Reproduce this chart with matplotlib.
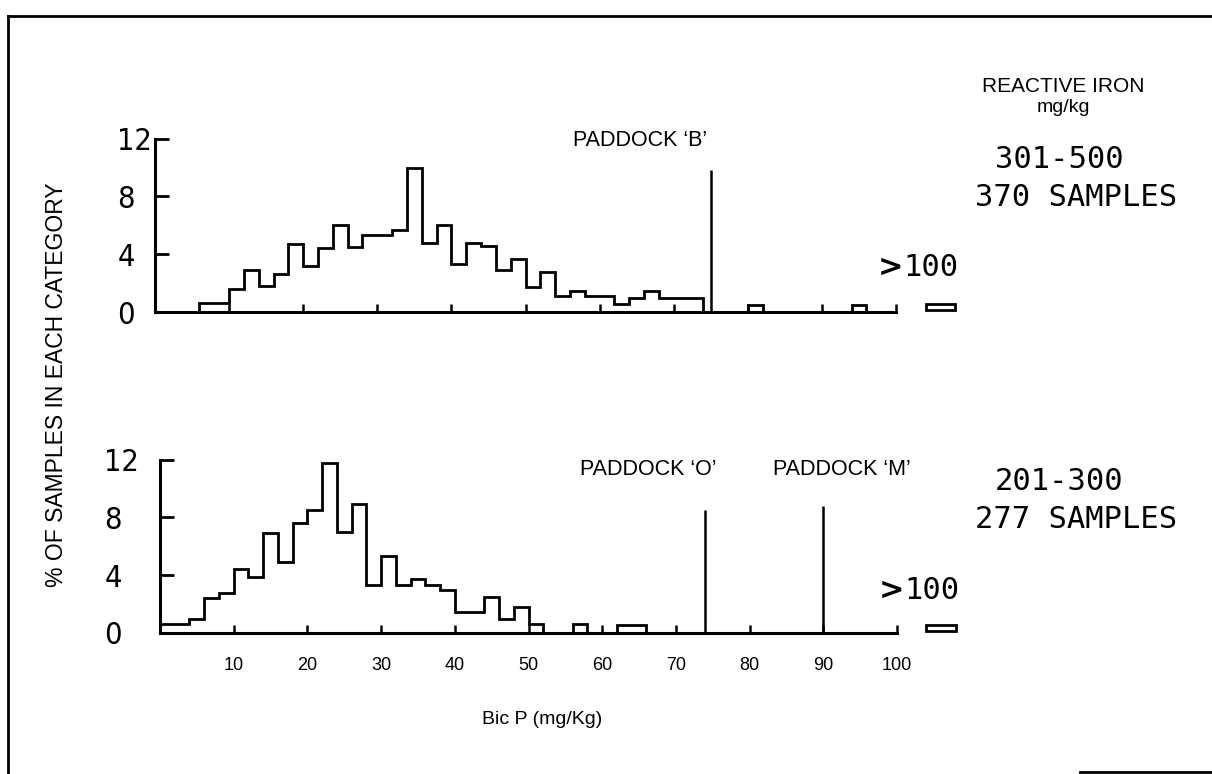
import matplotlib
matplotlib.use("Agg")
import matplotlib.pyplot as plt
import numpy as np
from matplotlib.lines import Line2D

# ---- data -------------------------------------------------------------
# 2 mg/kg classes of bicarbonate-extractable P, 0-100
bin_edges = np.arange(0, 102, 2)

# % of samples per class, reactive iron 301-500 mg/kg (370 samples)
pct_iron_301_500 = [
    0, 0, 0, 0.6, 0.6, 1.6, 2.9, 1.8, 2.6, 4.7,
    3.2, 4.4, 6.0, 4.5, 5.3, 5.3, 5.7, 10.0, 4.8, 6.0,
    3.35, 4.8, 4.6, 2.9, 3.7, 1.7, 2.8, 1.1, 1.45, 1.1,
    1.1, 0.55, 1.0, 1.45, 1.0, 1.0, 1.0, 0, 0, 0,
    0.5, 0, 0, 0, 0, 0, 0, 0.5, 0, 0,
]
# % of samples per class, reactive iron 201-300 mg/kg (277 samples)
pct_iron_201_300 = [
    0.6, 0.6, 1.0, 2.4, 2.8, 4.45, 3.9, 6.9, 4.9, 7.6,
    8.5, 11.8, 7.0, 8.9, 3.35, 5.3, 3.35, 3.75, 3.35, 3.0,
    1.45, 1.45, 2.5, 1.0, 1.8, 0.6, 0, 0, 0.6, 0,
    0, 0.55, 0.55, 0, 0, 0, 0, 0, 0, 0,
    0, 0, 0, 0, 0, 0, 0, 0, 0, 0,
]
# share of samples above 100 mg/kg
pct_over_100 = [0.45, 0.45]

panel_ranges = ["301-500", "201-300"]
panel_counts = ["370 SAMPLES", "277 SAMPLES"]

# paddock values of Bic P, marker heights and label positions
paddock_names = [["PADDOCK \u2018B\u2019"], ["PADDOCK \u2018O\u2019", "PADDOCK \u2018M\u2019"]]
paddock_bicp = [[75], [74, 90]]
paddock_line_top = [[9.8], [8.5, 8.8]]
paddock_label_x = [[65.5], [66.2, 92.5]]

x_ticks = [10, 20, 30, 40, 50, 60, 70, 80, 90, 100]
y_ticks = [0, 4, 8, 12]

# ---- figure -----------------------------------------------------------
W, H = 1212, 774
fig = plt.figure(figsize=(W / 100, H / 100), dpi=100)
fig.patch.set_facecolor("white")

SANS = ["Liberation Sans", "DejaVu Sans"]
MONO = ["DejaVu Sans Mono"]


def px_axes(x0, x_per_unit, y0, y_per_unit, xmax=110, ymax=12.5):
    """Axes whose data origin sits at pixel (x0, y0) measured from top-left."""
    left = x0 / W
    width = xmax * x_per_unit / W
    bottom = (H - y0) / H
    height = ymax * y_per_unit / H
    ax = fig.add_axes([left, bottom, width, height])
    ax.set_xlim(0, xmax)
    ax.set_ylim(0, ymax)
    return ax


axes = [
    px_axes(155, 7.41, 312, 14.45),
    px_axes(160, 7.37, 633, 14.44),
]

series = [pct_iron_301_500, pct_iron_201_300]
ytick_pad = [27, 40]
LW = 2.0

for i, ax in enumerate(axes):
    ax.patch.set_alpha(0)
    for side in ("top", "right"):
        ax.spines[side].set_visible(False)
    ax.spines["left"].set_bounds(0, 12)
    ax.spines["bottom"].set_bounds(0, 100)
    ax.spines["left"].set_linewidth(2.2)
    ax.spines["bottom"].set_linewidth(2.2)

    ax.stairs(series[i], bin_edges, baseline=0, color="black", lw=LW, fill=False)

    # values above 100 mg/kg, shown as a separate box
    ax.bar([106], [pct_over_100[i]], width=4, bottom=0.12, fill=False,
           edgecolor="black", lw=LW, clip_on=False)
    ax.text(101, 3.1 - 0.15 * i, ">", fontsize=22, fontweight="bold",
            family=["DejaVu Sans"], ha="right", va="center")
    ax.text(101, 3.1 - 0.15 * i, "100", fontsize=22, family=MONO,
            ha="left", va="center")

    # paddock markers
    for name, xv, top, lx in zip(paddock_names[i], paddock_bicp[i],
                                 paddock_line_top[i], paddock_label_x[i]):
        ax.vlines(xv, 0, top, color="black", lw=1.8)
        ax.text(lx, 11.3 if i else 11.85, name, fontsize=15.5, family=SANS,
                ha="center", va="center")

    ax.set_yticks(y_ticks)
    ax.set_yticklabels([str(v) for v in y_ticks], family=["DejaVu Sans"],
                       fontsize=22, fontstretch="condensed", fontweight="light",
                       ha="left")
    ax.tick_params(axis="y", direction="in", length=10, width=2, pad=ytick_pad[i])

    ax.set_xticks(x_ticks)
    if i == 1:
        ax.set_xticklabels([str(v) for v in x_ticks], family=SANS, fontsize=13)
        ax.tick_params(axis="x", direction="in", length=6, width=1.8, pad=17)
    else:
        ax.set_xticklabels([])
        ax.tick_params(axis="x", direction="in", length=6, width=1.8)

    # reactive-iron class and sample count
    yc = 160 if i == 0 else 482
    fig.text(995 / W, 1 - yc / H, panel_ranges[i], fontsize=22, family=MONO,
             ha="left", va="center")
    fig.text(975 / W, 1 - (yc + 37) / H, panel_counts[i], fontsize=22, family=MONO,
             ha="left", va="center")

fig.text(1063 / W, 1 - 87 / H, "REACTIVE IRON", fontsize=15, family=SANS,
         ha="center", va="center")
fig.text(1063 / W, 1 - 107 / H, "mg/kg", fontsize=14, family=SANS,
         ha="center", va="center")

fig.text(57 / W, 1 - 385 / H, "% OF SAMPLES IN EACH CATEGORY", fontsize=16.5,
         family=SANS, rotation=90, ha="center", va="center")
fig.text(542 / W, 1 - 719 / H, "Bic P (mg/Kg)", fontsize=14, family=SANS,
         ha="center", va="center")

# page frame
fig.add_artist(Line2D([8 / W, 8 / W], [0, 1 - 16 / H], color="black", lw=2))
fig.add_artist(Line2D([8 / W, 1], [1 - 16 / H, 1 - 16 / H], color="black", lw=2))
fig.add_artist(Line2D([1080 / W, 1], [1 - 772 / H, 1 - 772 / H], color="black", lw=2))

fig.savefig("out.png", dpi=100, facecolor="white")
